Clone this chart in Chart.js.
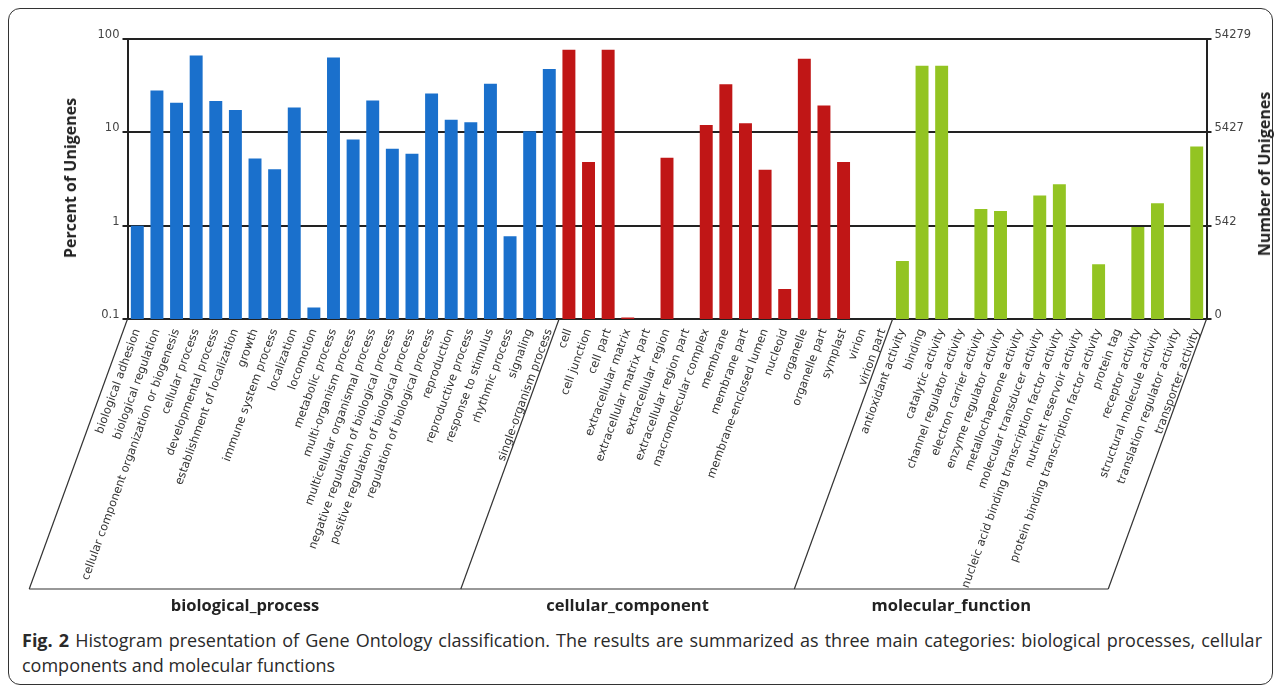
<!DOCTYPE html>
<html>
<head>
<meta charset="utf-8">
<script src="https://cdn.jsdelivr.net/npm/chart.js@4.4.0/dist/chart.umd.min.js"></script>
<style>
  body {
    margin: 0;
    width: 1281px;
    height: 686px;
    overflow: hidden;
    position: relative;
    background: #fff;
    font-family: "Open Sans", sans-serif;
  }
  #frame {
    position: absolute;
    left: 8px;
    top: 8px;
    width: 1265px;
    height: 677px;
    border: 1.5px solid #333;
    border-radius: 12px;
    box-sizing: border-box;
  }
  #chart-box {
    position: absolute;
    left: 0;
    top: 0;
    width: 1281px;
    height: 620px;
  }
  .axis-title {
    position: absolute;
    font: bold 16px "Open Sans", sans-serif;
    color: #222;
    white-space: nowrap;
    transform: translate(-50%, -50%) rotate(-90deg);
  }
  #caption {
    position: absolute;
    left: 22px;
    top: 628px;
    width: 1240px;
    font-size: 18px;
    line-height: 25px;
    color: #2a2a2a;
  }
  #caption .full {
    text-align: justify;
    text-align-last: justify;
    white-space: nowrap;
  }
</style>
</head>
<body>
<div id="frame"></div>
<div id="chart-box"><canvas id="go-chart"></canvas></div>
<div class="axis-title" style="left:70px; top:178px;">Percent of Unigenes</div>
<div class="axis-title" style="left:1264px; top:174px;">Number of Unigenes</div>
<div id="caption">
  <div class="full"><b>Fig. 2</b> Histogram presentation of Gene Ontology classification. The results are summarized as three main categories: biological processes, cellular</div>
  <div>components and molecular functions</div>
</div>

<script>
const bioLabels = [
  "biological adhesion", "biological regulation",
  "cellular component organization or biogenesis", "cellular process",
  "developmental process", "establishment of localization", "growth",
  "immune system process", "localization", "locomotion", "metabolic process",
  "multi-organism process", "multicellular organismal process",
  "negative regulation of biological process",
  "positive regulation of biological process",
  "regulation of biological process", "reproduction", "reproductive process",
  "response to stimulus", "rhythmic process", "signaling",
  "single-organism process",
];
const bioValues = [
  1.0, 28, 20.8, 66.7, 21.7, 17.4, 5.25, 4.03, 18.4, 0.133, 63.5,
  8.4, 21.9, 6.67, 5.9, 26.0, 13.6, 12.8, 33.1, 0.77, 10.3, 47.6,
];

const cellLabels = [
  "cell", "cell junction", "cell part", "extracellular matrix",
  "extracellular matrix part", "extracellular region",
  "extracellular region part", "macromolecular complex", "membrane",
  "membrane part", "membrane-enclosed lumen", "nucleoid", "organelle",
  "organelle part", "symplast", "virion", "virion part",
];
const cellValues = [
  76.8, 4.8, 76.8, 0.104, null, 5.34, null, 12.0, 32.8,
  12.5, 3.97, 0.21, 61.5, 19.4, 4.8, null, null,
];

const funcLabels = [
  "antioxidant activity", "binding", "catalytic activity",
  "channel regulator activity", "electron carrier activity",
  "enzyme regulator activity", "metallochaperone activity",
  "molecular transducer activity",
  "nucleic acid binding transcription factor activity",
  "nutrient reservoir activity",
  "protein binding transcription factor activity", "protein tag",
  "receptor activity", "structural molecule activity",
  "translation regulator activity", "transporter activity",
];
const funcValues = [
  0.417, 51.7, 51.7, null, 1.51, 1.44, null, 2.10, 2.78,
  null, 0.387, null, 0.968, 1.74, null, 7.07,
];

const groupNames = ["biological_process", "cellular_component", "molecular_function"];
const groupColors = ["#1a70cc", "#c01616", "#93c422"];

const percentTicks = [0.1, 1, 10, 100];
const percentLabels = ["0.1", "1", "10", "100"];
const countLabels = ["0", "542", "5427", "54279"];

const groups = [bioValues, cellValues, funcValues];
const allLabels = [...bioLabels, ...cellLabels, ...funcLabels];
const allValues = [...bioValues, ...cellValues, ...funcValues];
const barColors = groups.flatMap((vals, g) => vals.map(() => groupColors[g]));

// index where each group starts, plus the end
const groupStarts = [0];
groups.forEach((vals) => groupStarts.push(groupStarts[groupStarts.length - 1] + vals.length));

// slanted boxes under the labels and the group names
const groupOutline = {
  id: "groupOutline",
  afterDraw(chart) {
    const area = chart.chartArea;
    const ctx = chart.ctx;
    const step = (area.right - area.left) / allLabels.length;
    const lean = Math.tan((20 * Math.PI) / 180);
    const baseY = area.bottom + 270;
    const drop = baseY - area.bottom;
    const edges = groupStarts.map((i) => area.left + i * step);
    const feet = edges.map((e) => e - lean * drop);

    ctx.save();
    ctx.strokeStyle = "#333";
    ctx.lineWidth = 1.2;
    edges.forEach((e, k) => {
      ctx.beginPath();
      ctx.moveTo(e, area.bottom);
      ctx.lineTo(feet[k], baseY);
      ctx.stroke();
    });
    ctx.beginPath();
    ctx.moveTo(feet[0], baseY);
    ctx.lineTo(feet[feet.length - 1], baseY);
    ctx.stroke();

    ctx.font = "bold 16.5px 'Open Sans', sans-serif";
    ctx.fillStyle = "#222";
    ctx.textAlign = "center";
    ctx.textBaseline = "middle";
    groupNames.forEach((name, k) => {
      ctx.fillText(name, (feet[k] + feet[k + 1]) / 2, baseY + 17);
    });
    ctx.restore();
  },
};

function fixedTicks(scale) {
  scale.ticks = percentTicks.map((v) => ({ value: v }));
}

const ctx = document.getElementById("go-chart").getContext("2d");
new Chart(ctx, {
  type: "bar",
  data: {
    labels: allLabels,
    datasets: [{
      data: allValues,
      backgroundColor: barColors,
      barPercentage: 0.66,
      categoryPercentage: 1,
      yAxisID: "y",
    }],
  },
  options: {
    responsive: true,
    maintainAspectRatio: false,
    animation: false,
    layout: { padding: { top: 39, left: 0, right: 0, bottom: 0 } },
    plugins: {
      legend: { display: false },
      tooltip: { enabled: false },
    },
    scales: {
      x: {
        grid: { display: false, drawTicks: false },
        border: { display: false },
        ticks: {
          autoSkip: false,
          minRotation: 70,
          maxRotation: 70,
          padding: 8,
          color: "#333",
          font: { family: "DejaVu Sans", size: 11.5 },
        },
        afterFit(scale) {
          scale.height = 301;
          scale.paddingLeft = 0;
          scale.paddingRight = 0;
        },
      },
      y: {
        type: "logarithmic",
        position: "left",
        min: 0.1,
        max: 100,
        afterBuildTicks: fixedTicks,
        grid: { color: "#222", lineWidth: 2, tickLength: 5 },
        border: { display: true, color: "#222", width: 2 },
        ticks: {
          padding: 3,
          labelOffset: -4,
          color: "#444",
          font: { family: "DejaVu Sans", size: 11.5 },
          callback: (v, i) => percentLabels[i],
        },
        afterFit(scale) {
          scale.width = 127.5;
          scale.paddingTop = 0;
          scale.paddingBottom = 0;
        },
      },
      count: {
        type: "logarithmic",
        position: "right",
        min: 0.1,
        max: 100,
        afterBuildTicks: fixedTicks,
        grid: { drawOnChartArea: false, color: "#222", lineWidth: 2, tickLength: 5 },
        border: { display: true, color: "#222", width: 2 },
        ticks: {
          padding: 3,
          labelOffset: -4,
          color: "#444",
          font: { family: "DejaVu Sans", size: 11.5 },
          callback: (v, i) => countLabels[i],
        },
        afterFit(scale) {
          scale.width = 74.5;
          scale.paddingTop = 0;
          scale.paddingBottom = 0;
        },
      },
    },
  },
  plugins: [groupOutline],
});
</script>
</body>
</html>
